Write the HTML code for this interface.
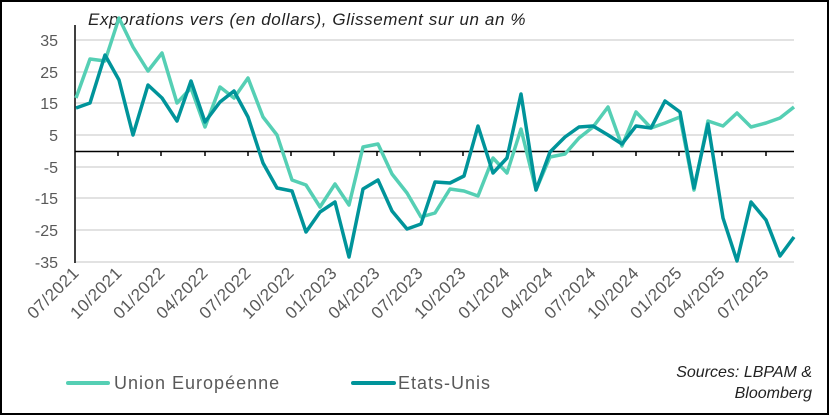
<!DOCTYPE html>
<html><head><meta charset="utf-8"><style>
html,body{margin:0;padding:0;background:#fff}
svg{display:block}
text{font-family:"Liberation Sans",sans-serif}
</style></head><body>
<svg width="829" height="415" viewBox="0 0 829 415" xmlns="http://www.w3.org/2000/svg">
<rect x="1" y="1" width="827" height="413" fill="#fff" stroke="#000" stroke-width="2"/>
<text x="88" y="25" font-size="17" font-style="italic" fill="#222" letter-spacing="0.6">Exporations vers (en dollars), Glissement sur un an %</text>
<g stroke="#d9d9d9" stroke-width="1.5">
<line x1="76" y1="40" x2="794" y2="40"/><line x1="76" y1="72" x2="794" y2="72"/>
<line x1="76" y1="103" x2="794" y2="103"/><line x1="76" y1="135" x2="794" y2="135"/>
<line x1="76" y1="167" x2="794" y2="167"/><line x1="76" y1="198" x2="794" y2="198"/>
<line x1="76" y1="230" x2="794" y2="230"/><line x1="76" y1="262" x2="794" y2="262"/>
</g>
<g font-size="16" fill="#595959" text-anchor="end">
<text x="58" y="46">35</text><text x="58" y="78">25</text><text x="58" y="109">15</text>
<text x="58" y="141">5</text><text x="58" y="173">-5</text><text x="58" y="204">-15</text>
<text x="58" y="236">-25</text><text x="58" y="268">-35</text>
</g>
<line x1="75" y1="25" x2="75" y2="263" stroke="#000" stroke-width="1.5"/>
<line x1="75" y1="151.5" x2="794" y2="151.5" stroke="#000" stroke-width="1.5"/>
<g stroke="#000" stroke-width="1.5">
<line x1="118" y1="151" x2="118" y2="156"/><line x1="161" y1="151" x2="161" y2="156"/><line x1="205" y1="151" x2="205" y2="156"/><line x1="248" y1="151" x2="248" y2="156"/><line x1="291" y1="151" x2="291" y2="156"/><line x1="334" y1="151" x2="334" y2="156"/><line x1="377" y1="151" x2="377" y2="156"/><line x1="420" y1="151" x2="420" y2="156"/><line x1="463" y1="151" x2="463" y2="156"/><line x1="507" y1="151" x2="507" y2="156"/><line x1="550" y1="151" x2="550" y2="156"/><line x1="593" y1="151" x2="593" y2="156"/><line x1="636" y1="151" x2="636" y2="156"/><line x1="679" y1="151" x2="679" y2="156"/><line x1="722" y1="151" x2="722" y2="156"/><line x1="766" y1="151" x2="766" y2="156"/>
</g>
<polyline fill="none" stroke="#55cfb4" stroke-width="3.5" stroke-linejoin="round" points="76,98 90,59 105,61 119,18 133,47 148,71 162,53 177,103 191,88 205,127 220,87 234,98 248,78 263,117 277,135 292,180 306,185 320,207 335,184 349,205 363,147 378,144 392,174 407,193 421,217 435,213 450,189 464,191 478,196 493,158 507,173 521,129 536,190 550,157 565,154 579,138 593,127 608,107 622,146 636,112 651,128 665,123 680,117 694,190 708,121 723,126 737,113 751,127 766,123 780,118 794,107"/>
<polyline fill="none" stroke="#00949a" stroke-width="3.5" stroke-linejoin="round" points="76,108 90,103 105,55 119,80 133,135 148,85 162,98 177,121 191,81 205,122 220,102 234,91 248,117 263,163 277,188 292,191 306,232 320,212 335,202 349,257 363,189 378,180 392,211 407,229 421,224 435,182 450,183 464,176 478,126 493,173 507,158 521,94 536,190 550,152 565,137 579,127 593,126 608,135 622,144 636,126 651,128 665,101 680,112 694,188 708,124 723,218 737,261 751,202 766,220 780,256 794,237"/>
<g font-size="17" fill="#595959" text-anchor="end" letter-spacing="0.5">
<text transform="translate(80,274) rotate(-45)">07/2021</text>
<text transform="translate(123,274) rotate(-45)">10/2021</text>
<text transform="translate(166,274) rotate(-45)">01/2022</text>
<text transform="translate(209,274) rotate(-45)">04/2022</text>
<text transform="translate(252,274) rotate(-45)">07/2022</text>
<text transform="translate(295,274) rotate(-45)">10/2022</text>
<text transform="translate(338,274) rotate(-45)">01/2023</text>
<text transform="translate(381,274) rotate(-45)">04/2023</text>
<text transform="translate(424,274) rotate(-45)">07/2023</text>
<text transform="translate(467,274) rotate(-45)">10/2023</text>
<text transform="translate(511,274) rotate(-45)">01/2024</text>
<text transform="translate(554,274) rotate(-45)">04/2024</text>
<text transform="translate(597,274) rotate(-45)">07/2024</text>
<text transform="translate(640,274) rotate(-45)">10/2024</text>
<text transform="translate(683,274) rotate(-45)">01/2025</text>
<text transform="translate(726,274) rotate(-45)">04/2025</text>
<text transform="translate(770,274) rotate(-45)">07/2025</text>
</g>
<line x1="68" y1="383" x2="108" y2="383" stroke="#55cfb4" stroke-width="4" stroke-linecap="round"/>
<text x="114" y="389" font-size="18" fill="#595959" letter-spacing="1">Union Européenne</text>
<line x1="353" y1="383" x2="394" y2="383" stroke="#00949a" stroke-width="4" stroke-linecap="round"/>
<text x="398" y="389" font-size="18" fill="#595959" letter-spacing="1">Etats-Unis</text>
<g font-size="16" font-style="italic" fill="#222" text-anchor="end">
<text x="812" y="377">Sources: LBPAM &amp;</text>
<text x="812" y="398">Bloomberg</text>
</g>
</svg>
</body></html>
